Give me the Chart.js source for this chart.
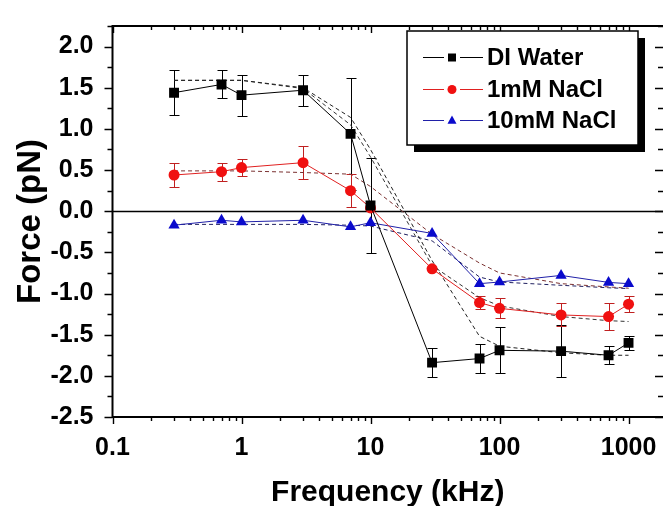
<!DOCTYPE html>
<html>
<head>
<title>Force vs Frequency</title>
<script src="https://cdn.jsdelivr.net/npm/chart.js"></script>
<style>
  body { margin: 0; background: #fff; }
  #wrap { width: 663px; height: 506px; }
</style>
</head>
<body>
<div id="wrap"><canvas id="chart" width="663" height="506"></canvas></div>
<script>
// frequencies (kHz) shared by all series
const freq = [0.3, 0.7, 1, 3, 7, 10, 30, 70, 100, 300, 700, 1000];

// measured force (pN) and error bars
const diWater = [1.44, 1.54, 1.41, 1.47, 0.94, 0.07, -1.84, -1.79, -1.69, -1.70, -1.75, -1.60];
const diWaterErr = [0.27, 0.17, 0.25, 0.19, 0.68, 0.58, 0.18, 0.18, 0.28, 0.32, 0.11, 0.09];
const nacl1 = [0.44, 0.48, 0.53, 0.59, 0.25, 0.04, -0.70, -1.11, -1.18, -1.26, -1.28, -1.13];
const nacl1Err = [0.15, 0.11, 0.10, 0.20, 0.20, 0, 0, 0.075, 0.12, 0.14, 0.16, 0.095];
const nacl10 = [-0.17, -0.11, -0.13, -0.11, -0.19, -0.14, -0.27, -0.88, -0.86, -0.78, -0.865, -0.88];

// dashed model curves
const fitA = [1.59, 1.59, 1.59, 1.50, 1.14, 0.75, -0.60, -1.52, -1.64, -1.72, -1.75, -1.75];
const fitB = [1.59, 1.59, 1.59, 1.49, 1.05, 0.66, -0.66, -1.05, -1.15, -1.28, -1.33, -1.34];
const fitC = [0.49, 0.49, 0.49, 0.47, 0.45, 0.30, -0.28, -0.63, -0.75, -0.88, -0.92, -0.935];
const fitD = [-0.16, -0.16, -0.16, -0.16, -0.17, -0.18, -0.36, -0.80, -0.86, -0.90, -0.93, -0.94];

const xTicks = [0.1, 1, 10, 100, 1000];
const yTicks = [-2.5, -2.0, -1.5, -1.0, -0.5, 0.0, 0.5, 1.0, 1.5, 2.0];
const legendNames = ['DI Water', '1mM NaCl', '10mM NaCl'];

const FONT = 'Arial, "Liberation Sans", sans-serif';
const pts = v => freq.map((f, i) => ({x: f, y: v[i]}));

function fitSet(values, color) {
    return {
        data: pts(values), borderColor: color, borderWidth: 1, borderDash: [4, 3],
        pointRadius: 0, fill: false, order: 10
    };
}

const errorSets = [
    {values: diWater, err: diWaterErr, color: '#000'},
    {values: nacl1, err: nacl1Err, color: '#c02020'}
];

const styles = [
    {line: '#000', fill: '#000', shape: 'rect'},
    {line: '#e02020', fill: '#f01010', shape: 'circle'},
    {line: '#2020a8', fill: '#0a0acc', shape: 'triangle'}
];

function marker(ctx, shape, x, y, r) {
    ctx.beginPath();
    if (shape === 'rect') {
        ctx.rect(x - r, y - r, 2 * r, 2 * r);
    } else if (shape === 'circle') {
        ctx.arc(x, y, r, 0, Math.PI * 2);
    } else {
        ctx.moveTo(x, y - r * 1.1);
        ctx.lineTo(x + r, y + r * 0.7);
        ctx.lineTo(x - r, y + r * 0.7);
        ctx.closePath();
    }
    ctx.fill();
}

const decorations = {
    id: 'decorations',
    beforeDatasetsDraw(chart) {
        const {ctx, chartArea: a, scales: {x, y}} = chart;
        ctx.save();
        // zero line
        const y0 = Math.round(y.getPixelForValue(0)) + 0.5;
        ctx.strokeStyle = '#000';
        ctx.lineWidth = 1.6;
        ctx.beginPath(); ctx.moveTo(a.left, y0); ctx.lineTo(a.right, y0); ctx.stroke();
        // error bars
        ctx.lineWidth = 1;
        errorSets.forEach(s => {
            ctx.strokeStyle = s.color;
            freq.forEach((f, i) => {
                const e = s.err[i];
                if (!e) return;
                const px = Math.round(x.getPixelForValue(f)) + 0.5;
                const y1 = Math.round(y.getPixelForValue(s.values[i] + e)) + 0.5;
                const y2 = Math.round(y.getPixelForValue(s.values[i] - e)) + 0.5;
                ctx.beginPath();
                ctx.moveTo(px, y1); ctx.lineTo(px, y2);
                ctx.moveTo(px - 5, y1); ctx.lineTo(px + 5, y1);
                ctx.moveTo(px - 5, y2); ctx.lineTo(px + 5, y2);
                ctx.stroke();
            });
        });
        ctx.restore();
    },
    afterDraw(chart) {
        const {ctx, chartArea: a, scales: {x, y}} = chart;
        ctx.save();
        ctx.strokeStyle = '#000';
        ctx.lineWidth = 2;
        // left, bottom and top axis lines (right one sits past the canvas edge)
        ctx.beginPath();
        ctx.moveTo(a.right, a.top); ctx.lineTo(a.left, a.top);
        ctx.lineTo(a.left, a.bottom); ctx.lineTo(a.right, a.bottom);
        ctx.stroke();

        // x ticks: out on the bottom, in on the top
        ctx.lineWidth = 1.4;
        ctx.beginPath();
        xTicks.forEach(d => {
            for (let m = 1; m <= 9; m++) {
                const v = d * m;
                if (v > x.max) break;
                const px = Math.round(x.getPixelForValue(v)) + 0.5;
                const len = m === 1 ? 7 : 4;
                ctx.moveTo(px, a.bottom); ctx.lineTo(px, a.bottom + len);
                ctx.moveTo(px, a.top); ctx.lineTo(px, a.top + len);
            }
        });
        // y ticks: out on the left, in on the right
        for (let v = -2.5; v <= 2.25 + 1e-9; v += 0.25) {
            const py = Math.round(y.getPixelForValue(v)) + 0.5;
            const major = Math.abs(v * 2 - Math.round(v * 2)) < 1e-6;
            const len = major ? 8 : 5;
            ctx.moveTo(a.left, py); ctx.lineTo(a.left - len, py);
            ctx.moveTo(a.right, py); ctx.lineTo(a.right - len, py);
        }
        ctx.stroke();

        // legend box with drop shadow
        const bx = 407, by = 31, bw = 231, bh = 114;
        ctx.fillStyle = '#000';
        ctx.fillRect(bx + 7, by + 7, bw, bh);
        ctx.fillStyle = '#fff';
        ctx.fillRect(bx, by, bw, bh);
        ctx.lineWidth = 1.5;
        ctx.strokeRect(bx, by, bw, bh);
        const rows = [57, 89, 120];
        ctx.font = 'bold 24px ' + FONT;
        ctx.textBaseline = 'middle';
        legendNames.forEach((name, i) => {
            const st = styles[i];
            const ry = rows[i] + 0.5;
            ctx.strokeStyle = st.line;
            ctx.lineWidth = 1;
            ctx.beginPath(); ctx.moveTo(423, ry); ctx.lineTo(483, ry); ctx.stroke();
            ctx.fillStyle = '#fff';
            ctx.fillRect(444, ry - 6, 16, 12);
            ctx.fillStyle = st.fill;
            marker(ctx, st.shape, 452, ry, st.shape === 'rect' ? 4 : 4.5);
            ctx.fillStyle = '#000';
            ctx.fillText(name, 487, rows[i] + 1);
        });
        ctx.restore();
    }
};

new Chart(document.getElementById('chart'), {
    type: 'line',
    data: {
        datasets: [
            {
                label: legendNames[0], data: pts(diWater), borderColor: styles[0].line, borderWidth: 1,
                pointStyle: 'rect', pointRadius: 7, pointBackgroundColor: styles[0].fill,
                pointBorderColor: styles[0].fill, pointBorderWidth: 0, order: 0
            },
            {
                label: legendNames[1], data: pts(nacl1), borderColor: styles[1].line, borderWidth: 1,
                pointStyle: 'circle', pointRadius: 5.5, pointBackgroundColor: styles[1].fill,
                pointBorderColor: styles[1].fill, pointBorderWidth: 0, order: 1
            },
            {
                label: legendNames[2], data: pts(nacl10), borderColor: styles[2].line, borderWidth: 1,
                pointStyle: 'triangle', pointRadius: 6.5, pointBackgroundColor: styles[2].fill,
                pointBorderColor: styles[2].fill, pointBorderWidth: 0, order: 2
            },
            fitSet(fitA, '#222'),
            fitSet(fitB, '#333'),
            fitSet(fitC, '#7a3030'),
            fitSet(fitD, '#202060')
        ]
    },
    options: {
        responsive: false,
        animation: false,
        layout: {autoPadding: false, padding: {top: 13, left: 0, right: 0, bottom: 0}},
        plugins: {legend: {display: false}, tooltip: {enabled: false}},
        elements: {line: {tension: 0}},
        scales: {
            x: {
                type: 'logarithmic', min: 0.1, max: 1850,
                afterBuildTicks: s => { s.ticks = xTicks.map(v => ({value: v})); },
                afterFit: s => { s.height = 89; s.paddingLeft = 0; s.paddingRight = 0; },
                grid: {display: false}, border: {display: false},
                ticks: {
                    font: {family: FONT, size: 25, weight: 'bold'}, color: '#000',
                    padding: 8, autoSkip: false, maxRotation: 0,
                    callback: v => String(v)
                },
                title: {
                    display: true, text: 'Frequency (kHz)', color: '#000',
                    font: {family: FONT, size: 30, weight: 'bold', lineHeight: 0.9},
                    padding: {top: 0, bottom: 0}
                }
            },
            y: {
                min: -2.5, max: 2.25,
                afterBuildTicks: s => { s.ticks = yTicks.map(v => ({value: v})); },
                afterFit: s => { s.width = 112.5; },
                grid: {display: false}, border: {display: false},
                ticks: {
                    font: {family: FONT, size: 25, weight: 'bold'}, color: '#000',
                    padding: 11, callback: v => v.toFixed(1)
                },
                title: {
                    display: true, text: 'Force (pN)', color: '#000',
                    font: {family: FONT, size: 33, weight: 'bold'},
                    padding: {top: 11, bottom: 0}
                }
            }
        }
    },
    plugins: [decorations]
});
</script>
</body>
</html>
